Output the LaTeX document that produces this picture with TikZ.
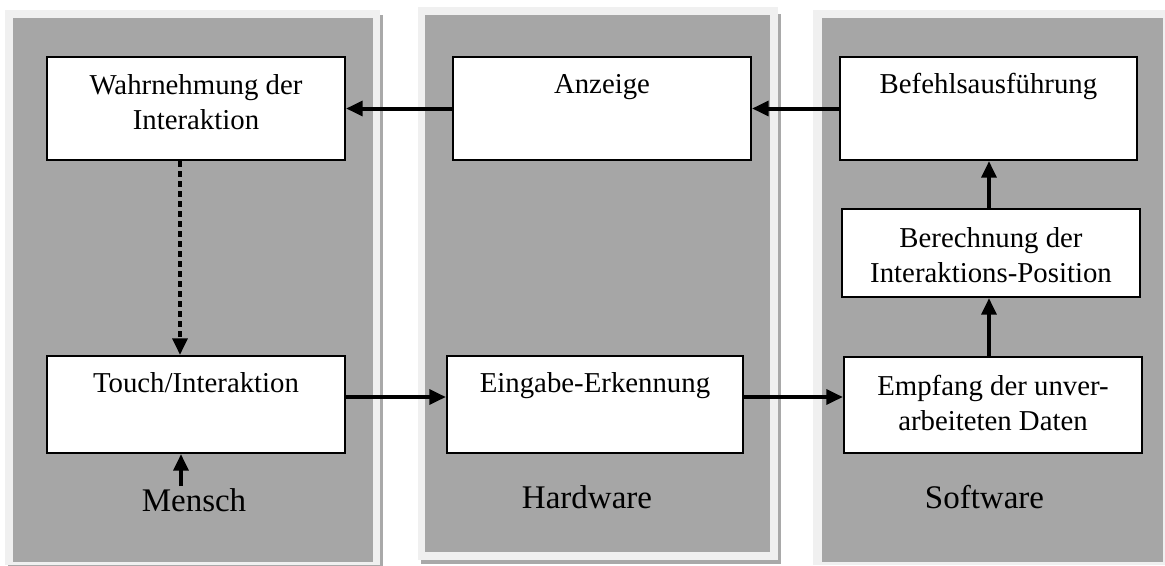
\documentclass[tikz,border=0pt]{standalone}
\usepackage{fontspec}
\setmainfont{Liberation Serif}
\usetikzlibrary{arrows.meta,fit}
\definecolor{panelgray}{HTML}{A6A6A6}
\definecolor{framelight}{HTML}{F0F0F0}
\definecolor{shadowgray}{HTML}{A9A9A9}
\tikzset{
  box/.style={draw=black,line width=1.5pt,fill=white,inner sep=0pt},
  txt/.style={font=\fontsize{21.6}{26.25}\selectfont,align=center,anchor=base,inner sep=0pt},
  lbl/.style={font=\fontsize{24.75}{30}\selectfont,anchor=base,inner sep=0pt},
  flow/.style={line width=3pt,-{Triangle[length=12.5pt,width=11pt]}},
  dotflow/.style={flow,dash pattern=on 4.5pt off 3pt}
}
\begin{document}
\begin{tikzpicture}[x=0.75pt,y=-0.75pt]
\useasboundingbox (0,0) rectangle (1165,565);
% panels
\fill[shadowgray] (8,15) rectangle (383,568);
\fill[framelight] (5,10) rectangle (380,565);
\fill[panelgray] (13,18) rectangle (373,562);
\fill[shadowgray] (421,14) rectangle (781,564);
\fill[framelight] (418,7) rectangle (778,560);
\fill[panelgray] (425,15) rectangle (770,552);
\fill[framelight] (813,10) rectangle (1165,565);
\fill[panelgray] (822,18) rectangle (1163,562);
% boxes
\node[box,fit={(47,57) (345,160)}] (b1) {};
\node[box,fit={(453,57) (751,160)}] (b2) {};
\node[box,fit={(840,57) (1137,160)}] (b3) {};
\node[box,fit={(47,356) (345,453)}] (b4) {};
\node[box,fit={(447,356) (743,453)}] (b5) {};
\node[box,fit={(844,357) (1142,453)}] (b6) {};
\node[box,fit={(842,209) (1140,297)}] (b7) {};
% texts (base anchor = baseline of the last line)
\node[txt] (t1) at (196,129) {Wahrnehmung der\\Interaktion};
\node[txt] (t2) at (602,93) {Anzeige};
\node[txt] (t3) at (988.5,93) {Befehlsausführung};
\node[txt] (t4) at (196,392) {Touch/Interaktion};
\node[txt] (t5) at (595,392) {Eingabe-Erkennung};
\node[txt] (t6) at (993,430) {Empfang der unver-\\arbeiteten Daten};
\node[txt] (t7) at (991,282) {Berechnung der\\Interaktions-Position};
% labels
\node[lbl] (l1) at (194,511) {Mensch};
\node[lbl] (l2) at (587,508) {Hardware};
\node[lbl] (l3) at (984.5,508) {Software};
% helper coordinates
\coordinate (r1) at (0,397);
\coordinate (c1) at (989,0);
\coordinate (d1) at (180,0);
\coordinate (m0) at (181,486);
% connectors
\draw[flow] (b2.west) -- (b1.east);
\draw[flow] (b3.west) -- (b2.east);
\draw[dotflow] (b1.south -| d1) -- (b4.north -| d1);
\draw[flow] (b4.east |- r1) -- (b5.west |- r1);
\draw[flow] (b5.east |- r1) -- (b6.west |- r1);
\draw[flow] (b6.north -| c1) -- (b7.south -| c1);
\draw[flow] (b7.north -| c1) -- (b3.south -| c1);
\draw[flow] (m0) -- (b4.south -| m0);
\end{tikzpicture}
\end{document}
